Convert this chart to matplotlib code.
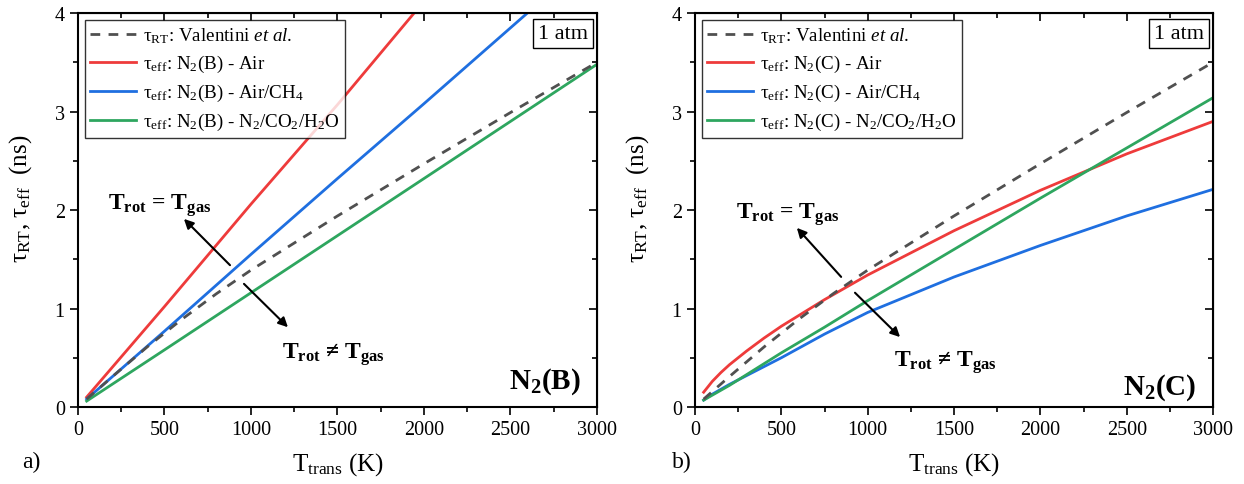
import numpy as np
import matplotlib.pyplot as plt
from matplotlib.ticker import MultipleLocator

plt.rcParams['font.family'] = ['Liberation Serif', 'DejaVu Serif']
plt.rcParams['mathtext.fontset'] = 'custom'
plt.rcParams['mathtext.rm'] = 'Liberation Serif'
plt.rcParams['mathtext.it'] = 'Liberation Serif:italic'
plt.rcParams['mathtext.bf'] = 'Liberation Serif:bold'

# Valentini tau_RT (same curve in both panels)
t_rt = [50, 200, 400, 600, 800, 1000, 1500, 2000, 2500, 3000]
tau_rt = [0.08, 0.31, 0.61, 0.89, 1.15, 1.39, 1.94, 2.47, 2.99, 3.50]

# panel a) N2(B)
t_b = [50, 500, 1000, 1500, 2000, 2500, 3000]
b_air = [0.10, 1.02, 2.06, 3.07, 4.12, 5.15, 6.18]
b_ch4 = [0.08, 0.77, 1.55, 2.32, 3.08, 3.85, 4.62]
b_h2o = [0.06, 0.58, 1.16, 1.74, 2.32, 2.90, 3.48]

# panel b) N2(C)
t_c = [50, 100, 150, 200, 300, 400, 500, 750, 1000, 1500, 2000, 2500, 3000]
c_air = [0.15, 0.26, 0.35, 0.43, 0.57, 0.70, 0.82, 1.09, 1.34, 1.79, 2.20, 2.57, 2.90]
c_ch4 = [0.07, 0.13, 0.18, 0.23, 0.32, 0.41, 0.50, 0.74, 0.96, 1.32, 1.64, 1.94, 2.21]
c_h2o = [0.07, 0.12, 0.17, 0.22, 0.33, 0.44, 0.55, 0.81, 1.08, 1.60, 2.12, 2.63, 3.14]

red, blue, green, grey = '#ee3b3b', '#1f6fe0', '#2ea65f', '#505050'

fig = plt.figure(figsize=(12.44, 4.85), dpi=100)
axa = fig.add_axes([0.0627, 0.1588, 0.4172, 0.8122])
axb = fig.add_axes([0.5587, 0.1588, 0.4164, 0.8122])


def style(ax):
    ax.set_xlim(0, 3000)
    ax.set_ylim(0, 4)
    ax.xaxis.set_major_locator(MultipleLocator(500))
    ax.xaxis.set_minor_locator(MultipleLocator(250))
    ax.yaxis.set_major_locator(MultipleLocator(1))
    ax.yaxis.set_minor_locator(MultipleLocator(0.5))
    ax.tick_params(which='major', direction='out', length=6, width=1.2, labelsize=14.5)
    ax.tick_params(which='minor', direction='out', length=3.5, width=1.2)
    for s in ax.spines.values():
        s.set_linewidth(1.5)
    top = ax.secondary_xaxis('top')
    top.xaxis.set_major_locator(MultipleLocator(500))
    top.xaxis.set_minor_locator(MultipleLocator(250))
    top.tick_params(which='both', direction='in', labeltop=False, width=1.2)
    top.tick_params(which='major', length=6)
    top.tick_params(which='minor', length=3.5)
    right = ax.secondary_yaxis('right')
    right.yaxis.set_major_locator(MultipleLocator(1))
    right.yaxis.set_minor_locator(MultipleLocator(0.5))
    right.tick_params(which='both', direction='in', labelright=False, width=1.2)
    right.tick_params(which='major', length=6)
    right.tick_params(which='minor', length=3.5)
    ax.set_xlabel(r'T$_{\rm trans}$ (K)', fontsize=18, labelpad=8)
    ax.set_ylabel(r'τ$_{\rm RT}$, τ$_{\rm eff}$  (ns)', fontsize=18, labelpad=14)
    ax.yaxis.set_label_coords(-0.085, 0.53)
    leg = ax.legend(loc='upper left', fontsize=13.7, handlelength=2.4,
                    fancybox=False, edgecolor='black', borderaxespad=0.35,
                    labelspacing=0.42, handletextpad=0.35, borderpad=0.3)
    leg.get_frame().set_linewidth(1.0)
    ax.text(0.982, 0.972, '1 atm', transform=ax.transAxes, ha='right', va='top',
            fontsize=16, bbox=dict(boxstyle='square,pad=0.22', fc='white', ec='black', lw=1))


dash = (0, (3.5, 3))
rt_label = r'τ$_{\rm RT}$: Valentini $\it{et\ al.}$'

axa.plot(t_rt, tau_rt, color=grey, lw=2, ls=dash, zorder=3, label=rt_label)
axa.plot(t_b, b_air, color=red, lw=2, label=r'τ$_{\rm eff}$: N$_2$(B) - Air')
axa.plot(t_b, b_ch4, color=blue, lw=2, label=r'τ$_{\rm eff}$: N$_2$(B) - Air/CH$_4$')
axa.plot(t_b, b_h2o, color=green, lw=2, label=r'τ$_{\rm eff}$: N$_2$(B) - N$_2$/CO$_2$/H$_2$O')
style(axa)

axb.plot(t_rt, tau_rt, color=grey, lw=2, ls=dash, zorder=3, label=rt_label)
axb.plot(t_c, c_air, color=red, lw=2, label=r'τ$_{\rm eff}$: N$_2$(C) - Air')
axb.plot(t_c, c_ch4, color=blue, lw=2, label=r'τ$_{\rm eff}$: N$_2$(C) - Air/CH$_4$')
axb.plot(t_c, c_h2o, color=green, lw=2, label=r'τ$_{\rm eff}$: N$_2$(C) - N$_2$/CO$_2$/H$_2$O')
style(axb)

eq = r'$\mathbf{T_{rot}}$ = $\mathbf{T_{gas}}$'
neq = r'$\mathbf{T_{rot}}$ ≠ $\mathbf{T_{gas}}$'
arrow = dict(arrowstyle='-|>', color='black', lw=1.5, mutation_scale=14)

# panel a annotations
axa.text(474, 2.06, eq, fontsize=17, fontweight='bold', ha='center', va='center')
axa.annotate('', xy=(601, 1.93), xytext=(890, 1.42), arrowprops=arrow)
axa.annotate('', xy=(1225, 0.79), xytext=(948, 1.27), arrowprops=arrow)
axa.text(1474, 0.54, neq, fontsize=17, fontweight='bold', ha='center', va='center')
axa.text(2700, 0.27, r'$\mathbf{N_2(B)}$', fontsize=21, ha='center', va='center')

# panel b annotations
axb.text(538, 1.96, eq, fontsize=17, fontweight='bold', ha='center', va='center')
axb.annotate('', xy=(579, 1.84), xytext=(857, 1.30), arrowprops=arrow)
axb.annotate('', xy=(1199, 0.69), xytext=(915, 1.18), arrowprops=arrow)
axb.text(1448, 0.46, neq, fontsize=17, fontweight='bold', ha='center', va='center')
axb.text(2692, 0.21, r'$\mathbf{N_2(C)}$', fontsize=21, ha='center', va='center')

fig.text(22 / 1244, 1 - 462 / 485, 'a)', fontsize=17, ha='left', va='center')
fig.text(672 / 1244, 1 - 462 / 485, 'b)', fontsize=17, ha='left', va='center')

fig.savefig('out.png', dpi=100)
